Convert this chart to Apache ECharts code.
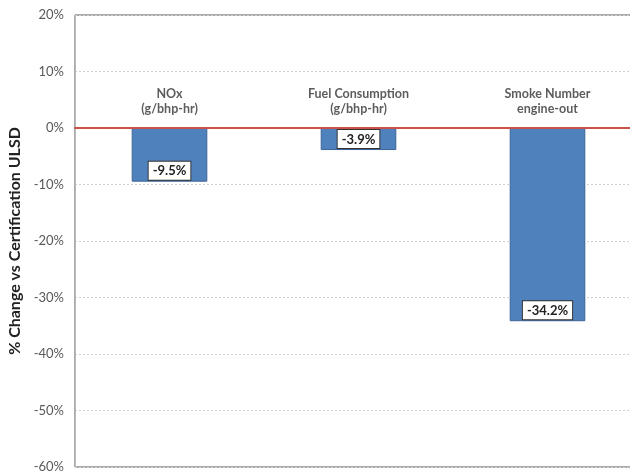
<!DOCTYPE html>
<html>
<head>
<meta charset="utf-8">
<script src="https://cdn.jsdelivr.net/npm/echarts@6/dist/echarts.min.js"></script>
<style>
  html, body { margin: 0; padding: 0; background: #fff; }
  #chart { width: 630px; height: 473px; }
</style>
</head>
<body>
<div id="chart"></div>
<script>
// Emission / fuel change relative to certification ULSD
const categories = ['NOx\n(g/bhp-hr)', 'Fuel Consumption\n(g/bhp-hr)', 'Smoke Number\nengine-out'];
const pctChange = [-9.5, -3.9, -34.2];
const yTicks = { min: -60, max: 20, step: 10 };
const yTitle = '% Change vs Certification ULSD';

const FONT = 'Lato, "Open Sans", sans-serif';

const chart = echarts.init(document.getElementById('chart'), null, { renderer: 'canvas' });
chart.setOption({
  animation: false,
  textStyle: { fontFamily: FONT },
  grid: {
    left: 75, top: 15, bottom: 6, width: 567,
    outerBoundsMode: 'none', containLabel: false,
    show: true, borderColor: '#555', borderWidth: 1, backgroundColor: 'transparent'
  },
  xAxis: {
    type: 'category',
    data: categories,
    axisTick: { show: false },
    axisLine: { onZero: true, lineStyle: { color: '#C9504B', width: 2 } },
    axisLabel: { show: false },
    z: 5
  },
  yAxis: {
    type: 'value',
    min: yTicks.min, max: yTicks.max, interval: yTicks.step,
    name: yTitle,
    nameLocation: 'middle',
    nameGap: 50,
    nameTextStyle: { fontFamily: FONT, fontWeight: 'bold', fontSize: 16, color: '#222' },
    axisLine: { show: true, lineStyle: { color: '#bbb', width: 1 } },
    axisTick: { show: false },
    axisLabel: { formatter: '{value}%', margin: 11, fontFamily: FONT, fontSize: 13, color: '#595959' },
    splitLine: { show: true, lineStyle: { color: '#d0d0d0', type: [2, 2], width: 1 } }
  },
  series: [{
    type: 'bar',
    data: pctChange,
    barWidth: '40%',
    itemStyle: { color: '#4F81BD', borderColor: '#3B6496', borderWidth: 1 },
    label: {
      show: true,
      position: 'insideBottom',
      distance: 2,
      formatter: p => p.value.toFixed(1) + '%',
      backgroundColor: '#fff',
      borderColor: '#333',
      borderWidth: 1,
      padding: [3, 4, 2, 4],
      fontFamily: FONT,
      fontWeight: 'bold',
      fontSize: 13,
      color: '#222'
    }
  }, {
    // category captions sitting just above the zero line
    type: 'scatter',
    data: categories.map(() => 0),
    symbolSize: 0,
    silent: true,
    z: 6,
    label: {
      show: true,
      position: 'top',
      distance: 12,
      formatter: p => categories[p.dataIndex],
      fontFamily: FONT,
      fontWeight: 'bold',
      fontSize: 12.5,
      lineHeight: 15,
      color: '#333'
    }
  }]
});
</script>
</body>
</html>
